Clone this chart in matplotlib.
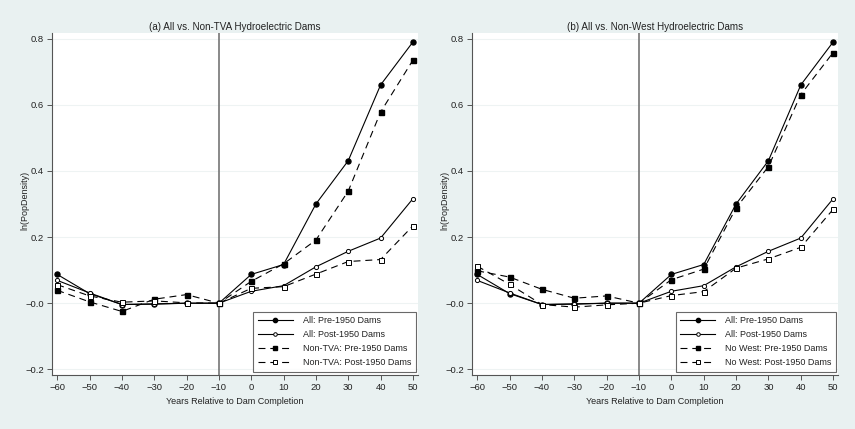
import matplotlib
matplotlib.use('Agg')
import matplotlib.pyplot as plt
from matplotlib.ticker import FixedLocator

plt.rcParams['font.family'] = ['Liberation Sans', 'DejaVu Sans']
plt.rcParams['lines.scale_dashes'] = False

# === Data: ln(PopDensity) by years relative to dam completion ===
years = [-60, -50, -40, -30, -20, -10, 0, 10, 20, 30, 40, 50]

all_pre  = [0.087, 0.029, -0.004, -0.002, 0.000, 0.0, 0.087, 0.117, 0.300, 0.431, 0.660, 0.790]
all_post = [0.069, 0.031, -0.004, -0.003, 0.000, 0.0, 0.036, 0.053, 0.110, 0.157, 0.197, 0.316]

nontva_pre  = [0.039, 0.004, -0.025, 0.012, 0.026, 0.0, 0.066, 0.119, 0.191, 0.339, 0.578, 0.735]
nontva_post = [0.056, 0.022, 0.003, 0.007, 0.001, 0.0, 0.045, 0.050, 0.088, 0.126, 0.132, 0.234]

nowest_pre  = [0.098, 0.079, 0.042, 0.015, 0.022, 0.0, 0.071, 0.103, 0.288, 0.413, 0.631, 0.758]
nowest_post = [0.112, 0.057, -0.004, -0.012, -0.005, 0.0, 0.023, 0.035, 0.106, 0.134, 0.169, 0.284]

panels = [
    ('(a) All vs. Non-TVA Hydroelectric Dams', 'Non-TVA', nontva_pre, nontva_post),
    ('(b) All vs. Non-West Hydroelectric Dams', 'No West', nowest_pre, nowest_post),
]

bg = '#e9f1f1'
fig = plt.figure(figsize=(8.55, 4.29), dpi=100, facecolor=bg)

ax_pos = [
    [0.0605, 0.126, 0.4285, 0.797],
    [0.5517, 0.126, 0.4288, 0.797],
]

dash = (0, (5, 3.5))
fs = 6.5

for pos, (title, name, pre, post) in zip(ax_pos, panels):
    ax = fig.add_axes(pos)
    ax.set_facecolor('white')

    ax.axvline(-10, color='#6a6a6a', lw=1.1, zorder=1)

    ax.plot(years, all_pre, color='black', lw=0.8, marker='o', ms=3.6,
            mfc='black', mec='black', label='All: Pre-1950 Dams', zorder=3)
    ax.plot(years, all_post, color='black', lw=0.8, marker='o', ms=3.0,
            mfc='white', mec='black', mew=0.7, label='All: Post-1950 Dams', zorder=3)
    ax.plot(years, pre, color='black', lw=0.8, ls=dash, marker='s', ms=3.6,
            mfc='black', mec='black', label=f'{name}: Pre-1950 Dams', zorder=3)
    ax.plot(years, post, color='black', lw=0.8, ls=dash, marker='s', ms=3.6,
            mfc='white', mec='black', mew=0.7, label=f'{name}: Post-1950 Dams', zorder=3)

    ax.set_xlim(-61.7, 51.6)
    ax.set_ylim(-0.217, 0.817)
    ax.xaxis.set_major_locator(FixedLocator(years))
    ax.set_xticklabels(['\u2212' + str(-y) if y < 0 else str(y) for y in years])
    yt = [-0.2, 0.0, 0.2, 0.4, 0.6, 0.8]
    ax.yaxis.set_major_locator(FixedLocator(yt))
    ax.set_yticklabels(['\u22120.2', '\u22120.0', '0.2', '0.4', '0.6', '0.8'])
    ax.grid(axis='y', color='#eef3f3', lw=0.8, zorder=0)
    ax.set_axisbelow(True)

    for s in ['top', 'right']:
        ax.spines[s].set_visible(False)
    for s in ['left', 'bottom']:
        ax.spines[s].set_color('#555555')
        ax.spines[s].set_linewidth(0.8)
    ax.tick_params(direction='out', length=3.5, width=0.7, color='#555555',
                   labelsize=fs + 0.3, labelcolor='#222222', pad=2)

    ax.set_title(title, fontsize=7.1, color='#222222', pad=2)
    ax.set_xlabel('Years Relative to Dam Completion', fontsize=fs, color='#222222', labelpad=4)
    ax.set_ylabel('ln(PopDensity)', fontsize=fs, color='#222222')
    ax.yaxis.set_label_coords(-0.06, 0.51)

    leg = ax.legend(loc='lower right', bbox_to_anchor=(0.994, 0.01), borderaxespad=0,
                    fontsize=fs, frameon=True, fancybox=False, handlelength=3.9,
                    handletextpad=1.1, labelspacing=0.55, borderpad=0.5,
                    markerscale=0.85, numpoints=1)
    leg.get_frame().set_edgecolor('#444444')
    leg.get_frame().set_linewidth(0.8)
    for t in leg.get_texts():
        t.set_color('#222222')

fig.savefig('out.png', dpi=100, facecolor=bg)
